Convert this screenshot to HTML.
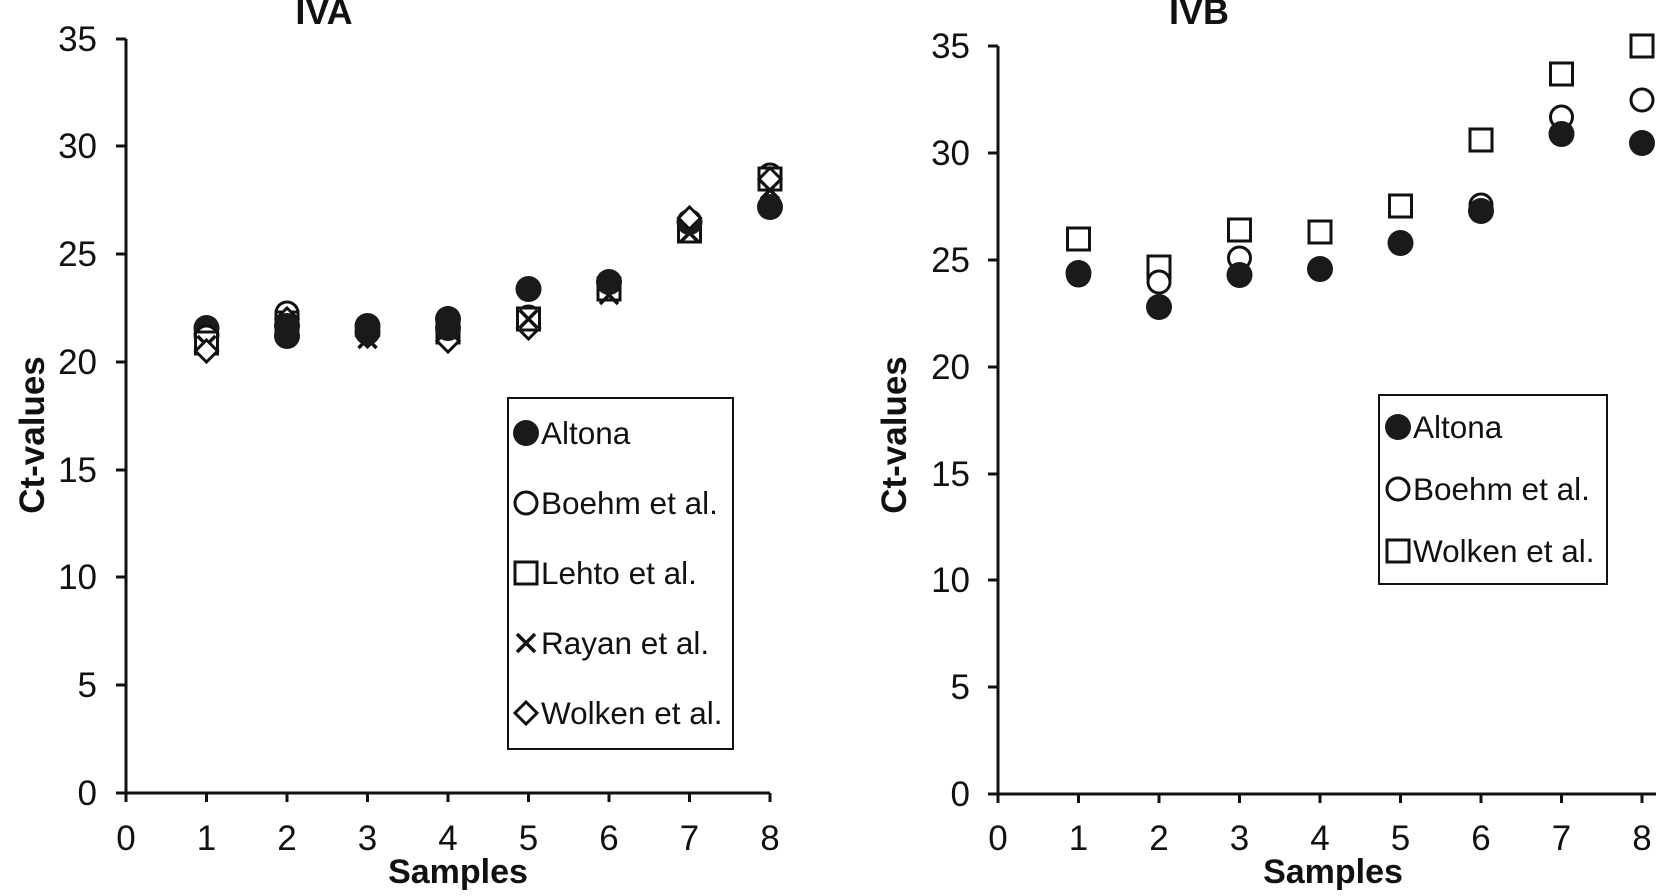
<!DOCTYPE html>
<html><head><meta charset="utf-8"><style>body{margin:0;background:#fff}svg{display:block}text{font-family:"Liberation Sans",sans-serif;fill:#111}</style></head><body>
<svg width="1656" height="896" viewBox="0 0 1656 896" xmlns="http://www.w3.org/2000/svg">
<defs>
<g id="fc"><circle r="13" fill="#1a1a1a"/></g>
<g id="oc"><circle r="11" fill="#fff" stroke="#111" stroke-width="3"/></g>
<g id="sq"><rect x="-11" y="-11" width="22" height="22" fill="#fff" stroke="#111" stroke-width="3"/></g>
<g id="xx"><path d="M-9,-9L9,9M-9,9L9,-9" stroke="#111" stroke-width="3.5"/></g>
<g id="di"><path d="M0,-11L11,0L0,11L-11,0Z" fill="#fff" stroke="#111" stroke-width="3"/></g>
</defs>
<g id="left">
<text x="324" y="24" font-size="36" font-weight="bold" text-anchor="middle">IVA</text>
<path d="M126,39V793H770" fill="none" stroke="#111" stroke-width="3"/>
<g stroke="#111" stroke-width="3">
<path d="M116,793h10M116,685h10M116,577h10M116,470h10M116,362h10M116,254h10M116,146h10M116,39h10"/>
<path d="M126,793v9M206.5,793v9M287,793v9M367.5,793v9M448,793v9M528.5,793v9M609,793v9M689.5,793v9M770,793v9"/>
</g>
<g font-size="35" text-anchor="end">
<text x="97" y="805">0</text><text x="97" y="697">5</text><text x="97" y="589">10</text><text x="97" y="482">15</text><text x="97" y="374">20</text><text x="97" y="266">25</text><text x="97" y="158">30</text><text x="97" y="51">35</text>
</g>
<g font-size="35" text-anchor="middle">
<text x="126" y="850">0</text><text x="206.5" y="850">1</text><text x="287" y="850">2</text><text x="367.5" y="850">3</text><text x="448" y="850">4</text><text x="528.5" y="850">5</text><text x="609" y="850">6</text><text x="689.5" y="850">7</text><text x="770" y="850">8</text>
</g>
<text x="458" y="883" font-size="34" font-weight="bold" text-anchor="middle">Samples</text>
<text transform="translate(44,435) rotate(-90)" font-size="35" font-weight="bold" text-anchor="middle">Ct-values</text>
<use href="#fc" x="206.5" y="328"/><use href="#fc" x="206.5" y="335"/>
<use href="#oc" x="206.5" y="337"/><use href="#sq" x="206.5" y="343"/><use href="#xx" x="206.5" y="345"/><use href="#di" x="206.5" y="351"/>
<use href="#oc" x="287" y="313"/><use href="#sq" x="287" y="323"/><use href="#xx" x="287" y="326"/><use href="#di" x="287" y="319"/>
<use href="#fc" x="287" y="336"/><use href="#fc" x="287" y="326"/>
<use href="#xx" x="367.5" y="339"/><use href="#di" x="367.5" y="336"/><use href="#fc" x="367.5" y="326"/><use href="#fc" x="367.5" y="332"/>
<use href="#sq" x="448" y="332"/><use href="#xx" x="448" y="334"/><use href="#di" x="448" y="341"/><use href="#fc" x="448" y="319"/><use href="#fc" x="448" y="328"/>
<use href="#fc" x="528.5" y="289"/><use href="#oc" x="528.5" y="317"/><use href="#di" x="528.5" y="328"/><use href="#sq" x="528.5" y="319"/><use href="#xx" x="528.5" y="319"/>
<use href="#oc" x="609" y="284"/><use href="#sq" x="609" y="289"/><use href="#xx" x="609" y="295"/><use href="#fc" x="609" y="282"/>
<use href="#oc" x="689.5" y="227"/><use href="#sq" x="689.5" y="231"/><use href="#xx" x="689.5" y="233"/><use href="#fc" x="689.5" y="222"/><use href="#di" x="689.5" y="218"/>
<use href="#oc" x="770" y="175"/><use href="#sq" x="770" y="179"/><use href="#xx" x="770" y="190"/><use href="#di" x="770" y="179"/><use href="#fc" x="770" y="207"/>
<rect x="508" y="398" width="225" height="351" fill="#fff" stroke="#111" stroke-width="2"/>
<use href="#fc" x="526" y="433"/><use href="#oc" x="526" y="503"/><use href="#sq" x="526" y="573"/><use href="#xx" x="526" y="643"/><use href="#di" x="526" y="713"/>
<g font-size="31.5"><text x="541" y="444">Altona</text><text x="541" y="514">Boehm et al.</text><text x="541" y="584">Lehto et al.</text><text x="541" y="654">Rayan et al.</text><text x="541" y="724">Wolken et al.</text></g>
</g>
<g id="right">
<text x="1199" y="24" font-size="36" font-weight="bold" text-anchor="middle">IVB</text>
<path d="M998,46V794H1656" fill="none" stroke="#111" stroke-width="3"/>
<g stroke="#111" stroke-width="3">
<path d="M988,794h10M988,687h10M988,580h10M988,474h10M988,367h10M988,260h10M988,153h10M988,46h10"/>
<path d="M998,794v9M1078.5,794v9M1159,794v9M1239.5,794v9M1320,794v9M1400.5,794v9M1481,794v9M1561.5,794v9M1642,794v9"/>
</g>
<g font-size="35" text-anchor="end">
<text x="970" y="806">0</text><text x="970" y="699">5</text><text x="970" y="592">10</text><text x="970" y="486">15</text><text x="970" y="379">20</text><text x="970" y="272">25</text><text x="970" y="165">30</text><text x="970" y="58">35</text>
</g>
<g font-size="35" text-anchor="middle">
<text x="998" y="850">0</text><text x="1078.5" y="850">1</text><text x="1159" y="850">2</text><text x="1239.5" y="850">3</text><text x="1320" y="850">4</text><text x="1400.5" y="850">5</text><text x="1481" y="850">6</text><text x="1561.5" y="850">7</text><text x="1642" y="850">8</text>
</g>
<text x="1333" y="883" font-size="34" font-weight="bold" text-anchor="middle">Samples</text>
<text transform="translate(906,435) rotate(-90)" font-size="35" font-weight="bold" text-anchor="middle">Ct-values</text>
<use href="#sq" x="1078.5" y="239"/><use href="#sq" x="1159" y="267"/><use href="#sq" x="1239.5" y="230"/><use href="#sq" x="1320" y="232"/><use href="#sq" x="1400.5" y="206"/><use href="#sq" x="1481" y="140"/><use href="#sq" x="1561.5" y="74"/><use href="#sq" x="1642" y="46"/>
<use href="#oc" x="1078.5" y="275"/><use href="#oc" x="1159" y="282"/><use href="#oc" x="1239.5" y="258"/><use href="#oc" x="1481" y="205"/><use href="#oc" x="1561.5" y="117"/><use href="#oc" x="1642" y="100"/>
<use href="#fc" x="1078.5" y="273"/><use href="#fc" x="1159" y="307"/><use href="#fc" x="1239.5" y="275"/><use href="#fc" x="1320" y="269"/><use href="#fc" x="1400.5" y="243"/><use href="#fc" x="1481" y="211"/><use href="#fc" x="1561.5" y="134"/><use href="#fc" x="1642" y="143"/>
<rect x="1379" y="395" width="228" height="189" fill="#fff" stroke="#111" stroke-width="2"/>
<use href="#fc" x="1398" y="427"/><use href="#oc" x="1398" y="489"/><use href="#sq" x="1398" y="551"/>
<g font-size="31.5"><text x="1413" y="438">Altona</text><text x="1413" y="500">Boehm et al.</text><text x="1413" y="562">Wolken et al.</text></g>
</g>
</svg>
</body></html>
